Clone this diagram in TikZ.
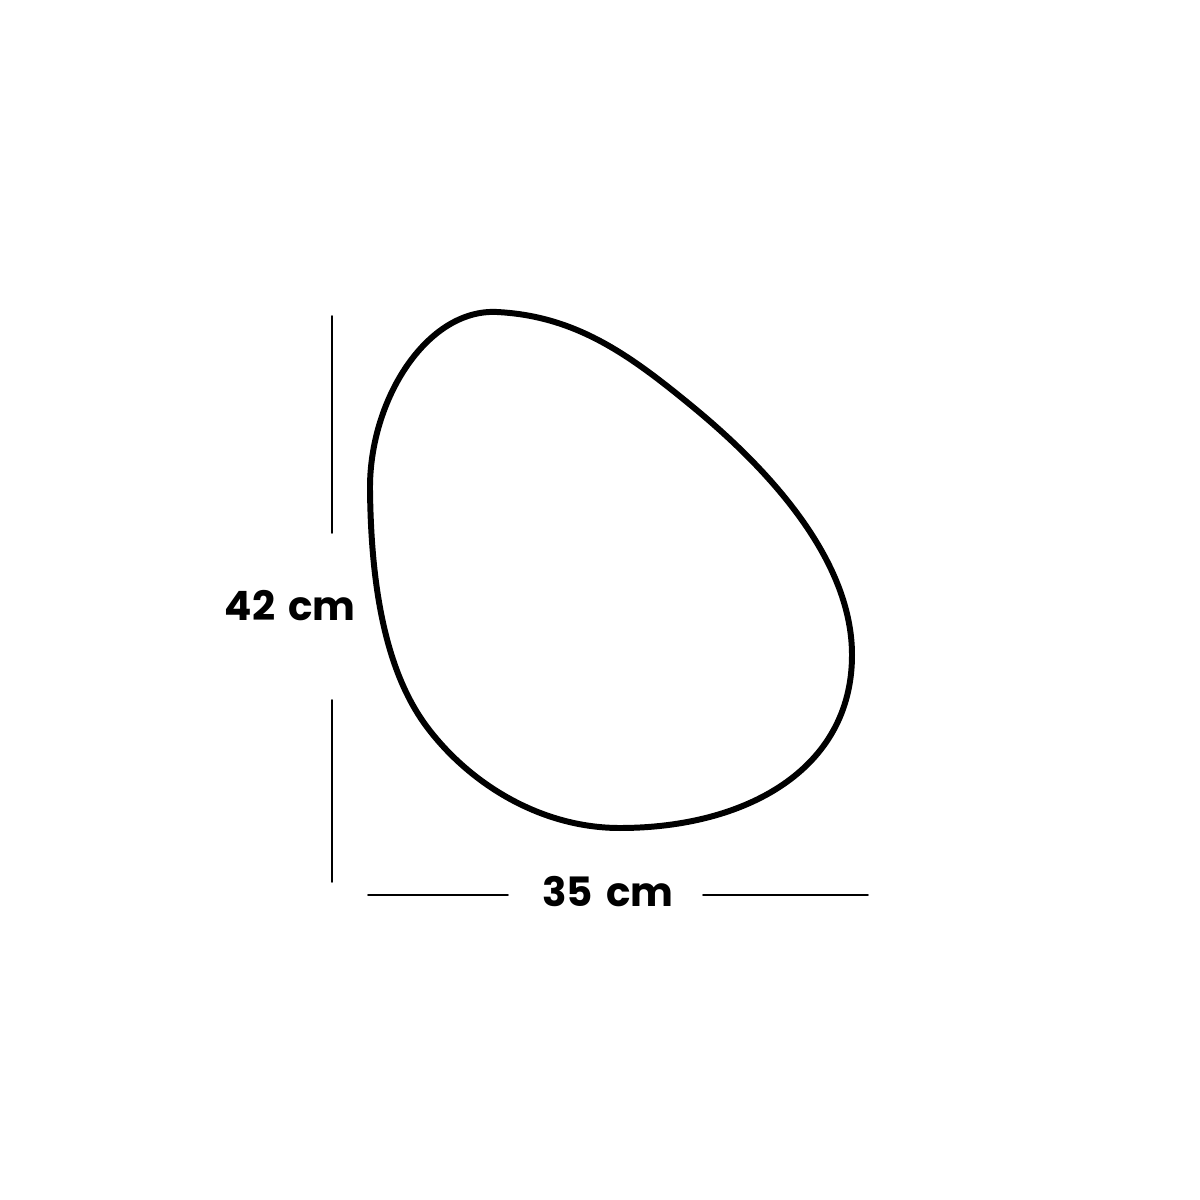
\documentclass[tikz,border=0pt]{standalone}
\usepackage{fontspec}
\setmainfont{Poppins}
\usepackage{tikz}
\definecolor{qqqqqq}{rgb}{0.,0.,0.}
\tikzset{dimline/.style={line width=0.45pt,color=qqqqqq},
  dimlabel/.style={font=\fontsize{11.5}{13}\selectfont\bfseries,color=qqqqqq,inner sep=0pt}}
\begin{document}
\begin{tikzpicture}[line cap=round,line join=round,x=0.01cm,y={(0cm,-0.01cm)}]
\useasboundingbox[fill=white] (0,0) rectangle (1200,1200);
%\draw[help lines] (0,0) grid (1200,1200);
\coordinate (top) at (497,312);
\coordinate (slope) at (693,407);
\coordinate (right) at (852,655);
\coordinate (bottom) at (620,828);
\coordinate (lowleft) at (427,727);
\coordinate (left) at (370,490);
\draw[line width=1.7pt,color=qqqqqq] (top) .. controls (577,316) and (631,356) .. (slope)
  .. controls (778,477) and (852,565) .. (right)
  .. controls (852,770) and (745,828) .. (bottom)
  .. controls (540,828) and (469,783) .. (lowleft)
  .. controls (382,667) and (371,575) .. (left)
  .. controls (369,400) and (427,308.5) .. cycle;
\coordinate (htop) at (332,316);
\coordinate (hupper) at (332,533);
\coordinate (hlower) at (332,700);
\coordinate (hbot) at (332,882);
\coordinate (wleft) at (368,895);
\coordinate (wmidl) at (508,895);
\coordinate (wmidr) at (703,895);
\coordinate (wright) at (868,895);
\draw[dimline] (htop) -- (hupper);
\draw[dimline] (hlower) -- (hbot);
\draw[dimline] (wleft) -- (wmidl);
\draw[dimline] (wmidr) -- (wright);
\node[dimlabel] (height) at (290,606) {42\hspace{0.32em}cm};
\node[dimlabel] (width) at (608,892) {35\hspace{0.32em}cm};
\end{tikzpicture}
\end{document}
